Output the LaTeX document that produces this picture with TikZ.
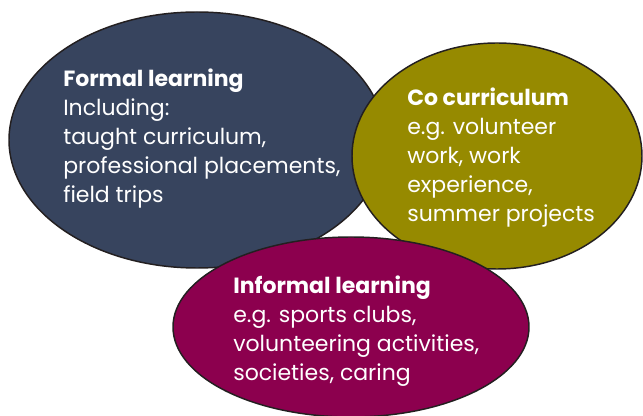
\documentclass[tikz,border=0pt]{standalone}
\usepackage{fontspec}
\setmainfont{Poppins}
\definecolor{formalblue}{RGB}{55,68,94}
\definecolor{coolive}{RGB}{150,138,0}
\definecolor{informalplum}{RGB}{140,0,78}
\definecolor{rimdark}{RGB}{35,31,32}

\tikzset{
  blob/.style={draw=rimdark, line width=1.1pt},
  blobtext/.style={anchor=base west, inner sep=0pt, align=left, text=white,
    font=\fontsize{16.5pt}{21.75pt}\selectfont}
}

\begin{document}
\begin{tikzpicture}[x=0.75pt,y=0.75pt,yscale=-1,xscale=1]
	\useasboundingbox (0,0) rectangle (643,416);

	%Shape: Ellipse formal
	\filldraw [blob, fill=formalblue] (197,140) ellipse (188 and 128);
	%Shape: Ellipse co curriculum
	\filldraw [blob, fill=coolive] (497,156) ellipse (145 and 113);
	%Shape: Ellipse informal
	\filldraw [blob, fill=informalplum] (351,327) ellipse (178 and 90);

	% Text Node (anchored at the baseline of the last line)
	\node (formal) [blobtext] at (63,203) {\textbf{Formal learning}\\Including:\\taught curriculum,\\professional placements,\\field trips};
	% Text Node
	\node (cocurr) [blobtext] at (407,222) {\textbf{Co curriculum}\\e.g. volunteer\\work, work\\experience,\\summer projects};
	% Text Node
	\node (informal) [blobtext] at (233,381) {\textbf{Informal learning}\\e.g. sports clubs,\\volunteering activities,\\societies, caring};
\end{tikzpicture}
\end{document}
